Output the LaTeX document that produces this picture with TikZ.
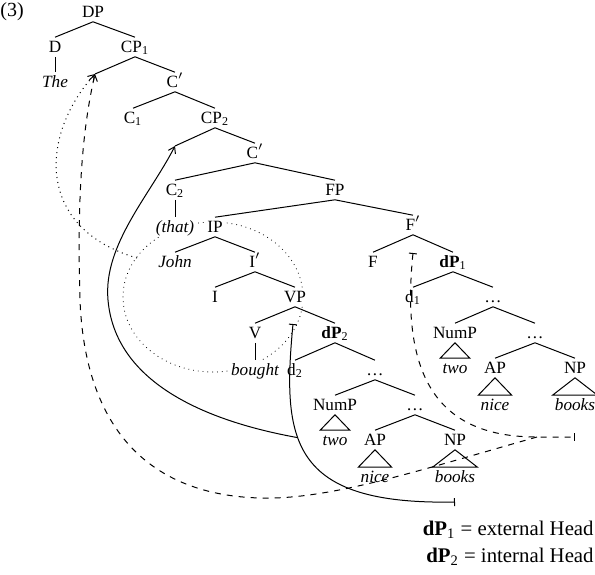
\documentclass[tikz,border=0pt]{standalone}
\usepackage{fontspec}
\setmainfont{Liberation Serif}
\usetikzlibrary{arrows.meta,backgrounds}

\begin{document}
\begin{tikzpicture}[
    x=0.5pt, y=-0.5pt,
    >={Straight Barb[length=3pt,width=4pt]},
    cat/.style={inner sep=1pt, fill=white, text height=6.2pt, text depth=1.2pt,
                font=\fontsize{8.6}{10}\selectfont},
    word/.style={cat, font=\fontsize{8.6}{10}\selectfont\itshape},
    branch/.style={line width=0.5pt},
    trace/.style={{Bar[width=4pt]}-{Bar[width=4pt]}, line width=0.5pt},
    move/.style={->, line width=0.5pt},
    lgd/.style={font=\fontsize{10.4}{12}\selectfont, anchor=east, inner sep=0pt},
]
\useasboundingbox (0,0) rectangle (595,574);

% === Example number ===
\node[lgd, anchor=west, font=\fontsize{10}{12}\selectfont] (exnum) at (0,12) {(3)};

% === DP and the two CPs ===
\node[cat] (DP) at (93,12) {DP};
\node[cat] (D) at (55,47) {D};
\node[cat] (CPa) at (135,47) {CP\textsubscript{1}};
\node[word] (The) at (55,82) {The};
\coordinate (specA) at (95,74);
\node[cat] (Cbara) at (175,82) {C$'$};
\node[cat] (Ca) at (133,118) {C\textsubscript{1}};
\node[cat] (CPb) at (215,118) {CP\textsubscript{2}};
\coordinate (specB) at (175,146);
\node[cat] (Cbarb) at (255,153) {C$'$};
\node[cat] (Cb) at (175,190) {C\textsubscript{2}};
\node[cat] (FP) at (335,190) {FP};

% === IP (relative clause) ===
\node[word] (that) at (175,227) {(that)};
\node[cat] (IP) at (215,227) {IP};
\node[word] (John) at (175,262) {John};
\node[cat] (Ibar) at (255,262) {I$'$};
\node[cat] (I) at (215,297) {I};
\node[cat] (VP) at (295,297) {VP};
\node[cat] (V) at (255,333) {V};
\node[cat] (dPb) at (335,333) {\textbf{dP}\textsubscript{2}};
\node[word] (bought) at (255,370) {bought};
\node[cat] (db) at (295,370) {d\textsubscript{2}};
\node[cat] (dotsc) at (375,370) {\dots};
\node[cat] (NumPb) at (335,405) {NumP};
\node[cat] (dotsd) at (415,405) {\dots};
\node[word] (twob) at (335,440) {two};
\node[cat] (APb) at (375,440) {AP};
\node[cat] (NPb) at (455,440) {NP};
\node[word] (niceb) at (375,477) {nice};
\node[word] (booksb) at (455,477) {books};

% === F' and dP1 ===
\node[cat] (Fbar) at (413,225) {F$'$};
\node[cat] (F) at (373,262) {F};
\node[cat] (dPa) at (453,262) {\textbf{dP}\textsubscript{1}};
\node[cat] (da) at (413,297) {d\textsubscript{1}};
\node[cat] (dotsa) at (493,297) {\dots};
\node[cat] (NumPa) at (455,333) {NumP};
\node[cat] (dotsb) at (535,333) {\dots};
\node[word] (twoa) at (455,368) {two};
\node[cat] (APa) at (495,368) {AP};
\node[cat] (NPa) at (575,368) {NP};
\node[word] (nicea) at (495,405) {nice};
\node[word] (booksa) at (575,405) {books};

% === Branches ===
\draw[branch] (DP.south) -- (D.north) (DP.south) -- (CPa.north);
\draw[branch] (D.south) -- (The.north);
\draw[branch] (CPa.south) -- (specA) (CPa.south) -- (Cbara.north);
\draw[branch] (Cbara.south) -- (Ca.north) (Cbara.south) -- (CPb.north);
\draw[branch] (CPb.south) -- (specB) (CPb.south) -- (Cbarb.north);
\draw[branch] (Cbarb.south) -- (Cb.north) (Cbarb.south) -- (FP.north);
\draw[branch] (Cb.south) -- (that.north);
\draw[branch] (FP.south) -- (IP.north) (FP.south) -- (Fbar.north);
\draw[branch] (IP.south) -- (John.north) (IP.south) -- (Ibar.north);
\draw[branch] (Ibar.south) -- (I.north) (Ibar.south) -- (VP.north);
\draw[branch] (VP.south) -- (V.north) (VP.south) -- (dPb.north);
\draw[branch] (V.south) -- (bought.north);
\draw[branch] (dPb.south) -- (db.north) (dPb.south) -- (dotsc.north);
\draw[branch] (dotsc.south) -- (NumPb.north) (dotsc.south) -- (dotsd.north);
\draw[branch] (dotsd.south) -- (APb.north) (dotsd.south) -- (NPb.north);
\draw[branch] (Fbar.south) -- (F.north) (Fbar.south) -- (dPa.north);
\draw[branch] (dPa.south) -- (da.north) (dPa.south) -- (dotsa.north);
\draw[branch] (dotsa.south) -- (NumPa.north) (dotsa.south) -- (dotsb.north);
\draw[branch] (dotsb.south) -- (APa.north) (dotsb.south) -- (NPa.north);

% triangles
\draw[branch] (NumPb.south) -- (twob.north east) -- (twob.north west) -- cycle;
\draw[branch] (APb.south) -- (niceb.north east) -- (niceb.north west) -- cycle;
\draw[branch] (NPb.south) -- (booksb.north east) -- (booksb.north west) -- cycle;
\draw[branch] (NumPa.south) -- (twoa.north east) -- (twoa.north west) -- cycle;
\draw[branch] (APa.south) -- (nicea.north east) -- (nicea.north west) -- cycle;
\draw[branch] (NPa.south) -- (booksa.north east) -- (booksa.north west) -- cycle;

% === Loop round IP ===
\begin{scope}[on background layer]
    \draw[dotted] (213,297) ellipse [x radius=45pt, y radius=37.5pt];
\end{scope}
\coordinate (loop) at (137,258);
\draw[move, dotted] (loop) .. controls (35,228) and (40,135) .. (specA);

% === Internal head chain ===
\coordinate (tv) at (293,324);
\coordinate (endv) at (455,502);
\draw[trace] (tv) .. controls (282,440) and (290,505) .. coordinate[pos=0.4] (jv) (endv);
\draw[move] (jv) .. controls (200,420) and (115,380) .. (108,300)
    .. controls (103,245) and (150,195) .. (specB);

% === External head chain ===
\coordinate (tf) at (413,253);
\coordinate (jf) at (537,437);
\coordinate (endf) at (575,437);
\draw[trace, dashed] (tf) .. controls (400,380) and (440,437) .. (jf) -- (endf);
\draw[move, dashed] (jf) .. controls (420,470) and (330,500) .. (260,498)
    .. controls (150,495) and (85,430) .. (80,300)
    .. controls (77,200) and (82,130) .. (specA);

% === Key ===
\node[lgd] (keya) at (594,530) {\textbf{dP}\textsubscript{1} = external Head};
\node[lgd] (keyb) at (594,557) {\textbf{dP}\textsubscript{2} = internal Head};

\end{tikzpicture}
\end{document}
